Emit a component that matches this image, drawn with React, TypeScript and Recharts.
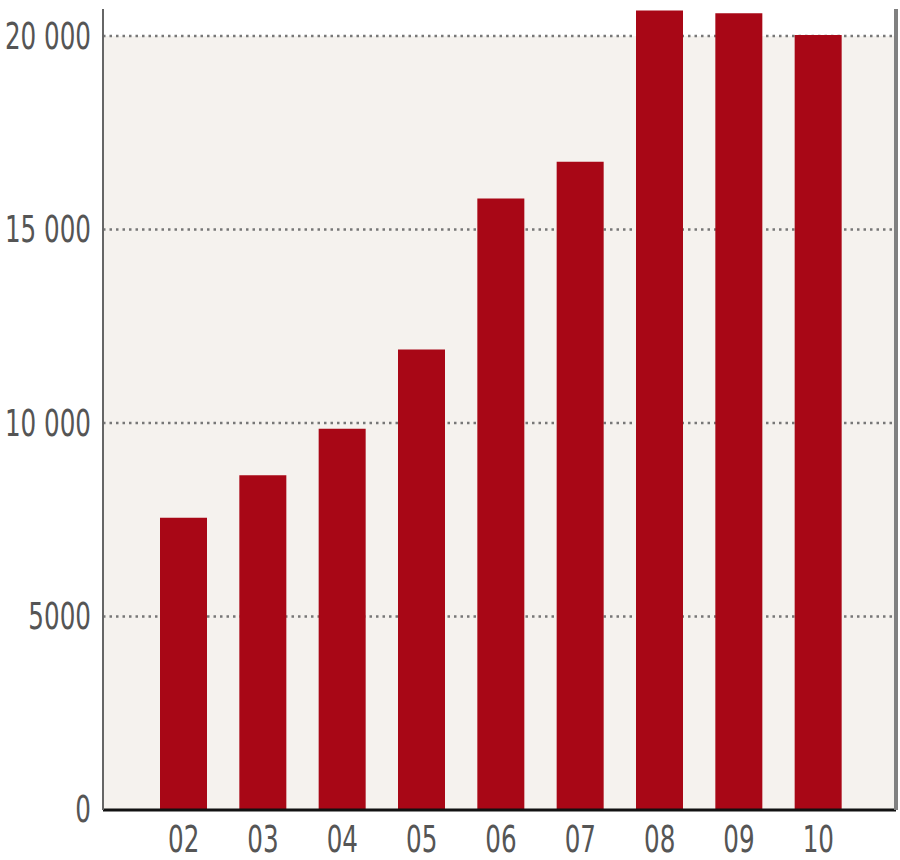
import { Bar, BarChart, CartesianGrid, ReferenceArea, XAxis, YAxis } from "recharts";

const years = ["02", "03", "04", "05", "06", "07", "08", "09", "10"];
const values = [7550, 8650, 9850, 11900, 15800, 16750, 20660, 20590, 20030];
const yTicks = [0, 5000, 10000, 15000, 20000];
const yTickLabels = ["0", "5000", "10 000", "15 000", "20 000"];

const data = years.map((year, i) => ({ year, value: values[i] }));

const font = "'DejaVu Sans Condensed', 'DejaVu Sans', sans-serif";
const W = 900;
const H = 860;
const axisW = 103;
const rightW = 1;
const marginR = 3;

// narrow the condensed font a bit more so it looks like the original
function Tick(props: any) {
  const { x, y, payload, textAnchor, label } = props;
  const text = label ? label(payload.value) : payload.value;
  return (
    <text
      x={x}
      y={y}
      textAnchor={textAnchor}
      dominantBaseline="central"
      fill="#555"
      fontSize={37}
      fontFamily={font}
      transform={`translate(${x},${y}) scale(0.74,1) translate(${-x},${-y})`}
    >
      {text}
    </text>
  );
}

// beige panel from 0 to 20 000 across the whole plot
function Panel(props: any) {
  const { y, height } = props;
  const x = axisW;
  const width = W - axisW - marginR - rightW;
  return <rect x={x} y={y} width={width} height={height} fill="#f5f2ee" />;
}

export default function App() {
  return (
    <div style={{ width: W, height: H, background: "#fff" }}>
      <style>{"html, body { margin: 0; padding: 0; overflow: hidden; }"}</style>
      <BarChart
        width={W}
        height={H}
        data={data}
        margin={{ top: 9, right: marginR, bottom: 0, left: 0 }}
      >
        <ReferenceArea
          y1={0}
          y2={20000}
          shape={(p: any) => <Panel {...p} />}
          ifOverflow="visible"
        />
        <CartesianGrid
          vertical={false}
          horizontalValues={[5000, 10000, 15000, 20000]}
          stroke="#777"
          strokeWidth={2.5}
          strokeDasharray="2.5 4"
          zIndex={150}
        />
        <XAxis
          dataKey="year"
          padding={{ left: 41, right: 38 }}
          height={50}
          tickLine={false}
          tickSize={0}
          tickMargin={29}
          axisLine={{ stroke: "#111", strokeWidth: 3 }}
          tick={<Tick />}
        />
        <YAxis
          width={axisW}
          domain={[0, 20700]}
          ticks={yTicks}
          interval={0}
          axisLine={{ stroke: "#666", strokeWidth: 2 }}
          tickLine={false}
          tickSize={0}
          tickMargin={12}
          tick={<Tick label={(v: number) => yTickLabels[yTicks.indexOf(v)]} />}
        />
        <YAxis
          yAxisId="right"
          orientation="right"
          width={rightW}
          domain={[0, 20700]}
          ticks={yTicks}
          axisLine={{ stroke: "#808080", strokeWidth: 4 }}
          tickLine={false}
          tick={false}
        />
        <Bar dataKey="value" fill="#a80716" barSize={47} isAnimationActive={false} />
      </BarChart>
    </div>
  );
}
